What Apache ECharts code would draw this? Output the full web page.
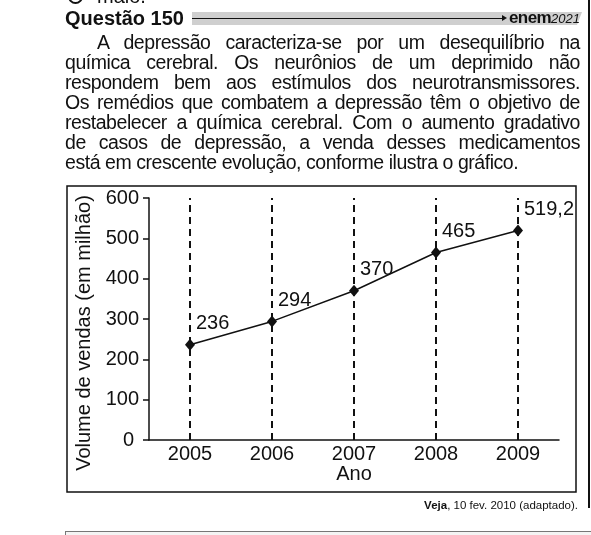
<!DOCTYPE html>
<html lang="pt">
<head>
<meta charset="UTF-8">
<title>Questão 150</title>
<script src="https://cdn.jsdelivr.net/npm/echarts@6/dist/echarts.min.js"></script>
<style>
    html, body { margin: 0; padding: 0; background: #fff; }
    body { width: 591px; height: 535px; position: relative; overflow: hidden;
           font-family: "Liberation Sans", Arial, sans-serif; color: #111; }
    #chart { position: absolute; left: 0; top: 0; width: 591px; height: 535px; }
    .abs { position: absolute; }
    .topo { left: 68px; top: -14px; font-size: 20px; line-height: 20px; }
    .topo span.bola { display: inline-block; width: 11px; height: 11px; border: 2px solid #111;
                      border-radius: 50%; margin-right: 14px; vertical-align: -1px; }
    .titulo { left: 65px; top: 8px; font-size: 20px; line-height: 20px; font-weight: bold; }
    .faixa { left: 192px; top: 12px; width: 390px; height: 13px; background: #cfcfcf;
             clip-path: polygon(0 0, 100% 0, calc(100% - 5px) 100%, 0 100%); }
    .traco { left: 192px; top: 18px; width: 311px; height: 1px; background: #111; }
    .seta { left: 502px; top: 15px; width: 0; height: 0; border-top: 3.5px solid transparent;
            border-bottom: 3.5px solid transparent; border-left: 5px solid #111; }
    .enem { left: 509px; top: 9px; font-size: 17px; line-height: 18px; font-weight: bold; letter-spacing: -0.6px; }
    .enem i { font-weight: normal; font-size: 13px; letter-spacing: 0; }
    .texto { left: 65px; top: 32px; width: 515px; font-size: 19.5px; line-height: 20px; letter-spacing: -0.45px; }
    .texto div { text-align: justify; text-align-last: justify; }
    .texto div.ultima { text-align-last: left; }
    .texto div.recuo { text-indent: 32px; }
    .fonte { right: 13px; top: 498px; font-size: 11.5px; line-height: 14px; }
    .borda { left: 588px; top: 0; width: 1.5px; height: 508px; background: #111; }
    .caixa { left: 65px; top: 531px; width: 540px; height: 20px; border: 1.5px solid #777; background: #f4f4f4; }
</style>
</head>
<body>
<div id="chart"></div>
<div class="abs topo"><span class="bola"></span>maio.</div>
<div class="abs titulo">Questão 150</div>
<div class="abs faixa"></div>
<div class="abs traco"></div>
<div class="abs seta"></div>
<div class="abs enem">enem<i>2021</i></div>
<div class="abs texto">
    <div class="recuo">A depressão caracteriza-se por um desequilíbrio na</div>
    <div>química cerebral. Os neurônios de um deprimido não</div>
    <div>respondem bem aos estímulos dos neurotransmissores.</div>
    <div>Os remédios que combatem a depressão têm o objetivo de</div>
    <div>restabelecer a química cerebral. Com o aumento gradativo</div>
    <div>de casos de depressão, a venda desses medicamentos</div>
    <div class="ultima">está em crescente evolução, conforme ilustra o gráfico.</div>
</div>
<div class="abs fonte"><b>Veja</b>, 10 fev. 2010 (adaptado).</div>
<div class="abs borda"></div>
<div class="abs caixa"></div>
</body>
</html>
<script>
    // dados
    var anos = ['2005', '2006', '2007', '2008', '2009'];
    var vendas = [236, 294, 370, 465, 519.2];
    var rotulos = ['236', '294', '370', '465', '519,2'];

    var preto = '#111';
    var myChart = echarts.init(document.getElementById('chart'));
    var option = {
        animation: false,
        textStyle: { fontFamily: '"Liberation Sans", Arial, sans-serif' },
        graphic: [
            {
                type: 'rect',
                shape: { x: 67, y: 186, width: 509, height: 306 },
                style: { fill: 'none', stroke: preto, lineWidth: 1.5 }
            }
        ],
        grid: { left: 149, right: 32, top: 198, bottom: 95 },
        xAxis: {
            type: 'category',
            data: anos,
            boundaryGap: true,
            name: 'Ano',
            nameLocation: 'middle',
            nameGap: 22,
            nameTextStyle: { fontSize: 20, color: preto },
            axisLine: { lineStyle: { color: preto, width: 1.5 } },
            axisTick: { show: false },
            axisLabel: { fontSize: 20, color: preto, margin: 4 }
        },
        yAxis: {
            type: 'value',
            min: 0,
            max: 600,
            interval: 100,
            name: 'Volume de vendas (em milhão)',
            nameLocation: 'middle',
            nameGap: 55,
            nameTextStyle: { fontSize: 20, color: preto, padding: [0, 28, 0, 0] },
            axisLine: { show: true, lineStyle: { color: preto, width: 1.5 } },
            axisTick: { show: true, length: 6, lineStyle: { color: preto, width: 1.5 } },
            splitLine: { show: false },
            axisLabel: {
                fontSize: 20,
                color: preto,
                margin: 10,
                formatter: function (v) {
                    return v === 0 ? '{z|0}' : String(v);
                },
                rich: { z: { fontSize: 20, color: preto, padding: [0, 5, 0, 0] } }
            }
        },
        series: [
            {
                type: 'line',
                data: vendas,
                symbol: 'diamond',
                symbolSize: [10, 12],
                itemStyle: { color: preto },
                lineStyle: { color: preto, width: 1.5 },
                label: {
                    show: true,
                    position: 'right',
                    distance: 1,
                    offset: [0, -21],
                    fontSize: 20,
                    color: preto,
                    formatter: function (p) {
                        return rotulos[p.dataIndex];
                    }
                },
                markLine: {
                    silent: true,
                    symbol: 'none',
                    label: { show: false },
                    lineStyle: { color: preto, width: 2, type: [7, 5] },
                    data: anos.map(function (a) {
                        return { xAxis: a };
                    })
                }
            }
        ]
    };
    myChart.setOption(option);
</script>
